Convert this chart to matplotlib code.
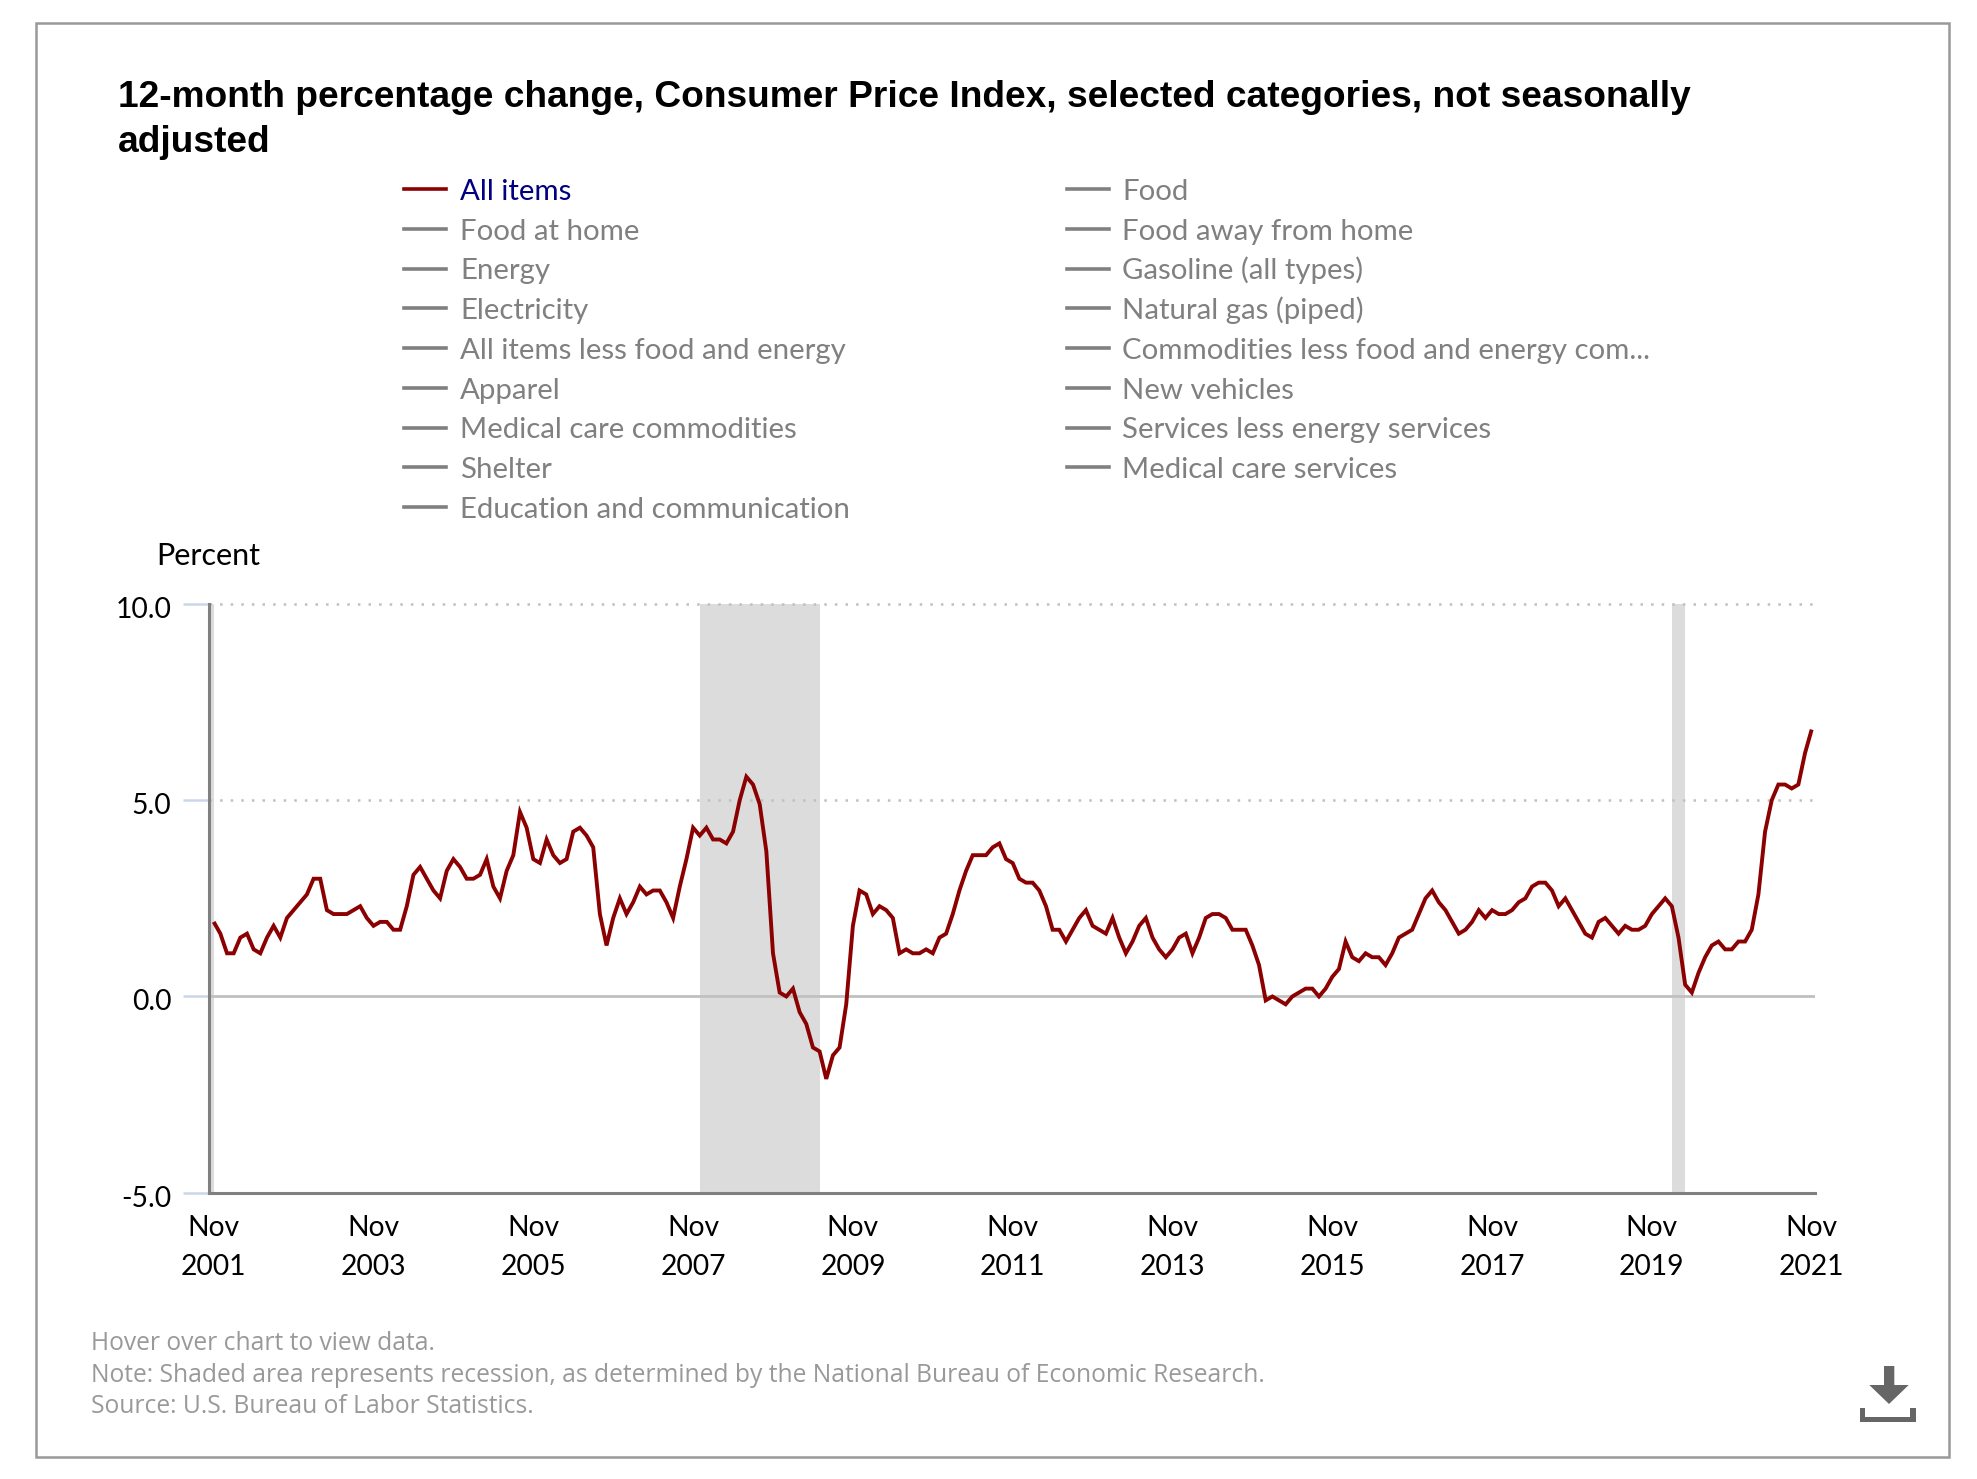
#!/usr/bin/env python3
import matplotlib
matplotlib.use('Agg')
import matplotlib.pyplot as plt
from matplotlib.lines import Line2D
from matplotlib.patches import Polygon, Rectangle
from matplotlib.transforms import ScaledTranslation

W, H = 1977, 1479

TITLE = ('12-month percentage change, Consumer Price Index, selected categories, '
         'not seasonally\nadjusted')

LEGEND_LEFT = ['All items', 'Food at home', 'Energy', 'Electricity',
               'All items less food and energy', 'Apparel',
               'Medical care commodities', 'Shelter',
               'Education and communication']
LEGEND_RIGHT = ['Food', 'Food away from home', 'Gasoline (all types)',
                'Natural gas (piped)', 'Commodities less food and energy com...',
                'New vehicles', 'Services less energy services',
                'Medical care services']

# 12-month change, Nov 2001 to Nov 2021, one value per month
ALL_ITEMS = [
    1.9, 1.6,
    1.1, 1.1, 1.5, 1.6, 1.2, 1.1, 1.5, 1.8, 1.5, 2.0, 2.2, 2.4,
    2.6, 3.0, 3.0, 2.2, 2.1, 2.1, 2.1, 2.2, 2.3, 2.0, 1.8, 1.9,
    1.9, 1.7, 1.7, 2.3, 3.1, 3.3, 3.0, 2.7, 2.5, 3.2, 3.5, 3.3,
    3.0, 3.0, 3.1, 3.5, 2.8, 2.5, 3.2, 3.6, 4.7, 4.3, 3.5, 3.4,
    4.0, 3.6, 3.4, 3.5, 4.2, 4.3, 4.1, 3.8, 2.1, 1.3, 2.0, 2.5,
    2.1, 2.4, 2.8, 2.6, 2.7, 2.7, 2.4, 2.0, 2.8, 3.5, 4.3, 4.1,
    4.3, 4.0, 4.0, 3.9, 4.2, 5.0, 5.6, 5.4, 4.9, 3.7, 1.1, 0.1,
    0.0, 0.2, -0.4, -0.7, -1.3, -1.4, -2.1, -1.5, -1.3, -0.2, 1.8, 2.7,
    2.6, 2.1, 2.3, 2.2, 2.0, 1.1, 1.2, 1.1, 1.1, 1.2, 1.1, 1.5,
    1.6, 2.1, 2.7, 3.2, 3.6, 3.6, 3.6, 3.8, 3.9, 3.5, 3.4, 3.0,
    2.9, 2.9, 2.7, 2.3, 1.7, 1.7, 1.4, 1.7, 2.0, 2.2, 1.8, 1.7,
    1.6, 2.0, 1.5, 1.1, 1.4, 1.8, 2.0, 1.5, 1.2, 1.0, 1.2, 1.5,
    1.6, 1.1, 1.5, 2.0, 2.1, 2.1, 2.0, 1.7, 1.7, 1.7, 1.3, 0.8,
    -0.1, 0.0, -0.1, -0.2, 0.0, 0.1, 0.2, 0.2, 0.0, 0.2, 0.5, 0.7,
    1.4, 1.0, 0.9, 1.1, 1.0, 1.0, 0.8, 1.1, 1.5, 1.6, 1.7, 2.1,
    2.5, 2.7, 2.4, 2.2, 1.9, 1.6, 1.7, 1.9, 2.2, 2.0, 2.2, 2.1,
    2.1, 2.2, 2.4, 2.5, 2.8, 2.9, 2.9, 2.7, 2.3, 2.5, 2.2, 1.9,
    1.6, 1.5, 1.9, 2.0, 1.8, 1.6, 1.8, 1.7, 1.7, 1.8, 2.1, 2.3,
    2.5, 2.3, 1.5, 0.3, 0.1, 0.6, 1.0, 1.3, 1.4, 1.2, 1.2, 1.4,
    1.4, 1.7, 2.6, 4.2, 5.0, 5.4, 5.4, 5.3, 5.4, 6.2, 6.8,
]
MONTHS = list(range(len(ALL_ITEMS)))

# Recessions, in months since Nov 2001
RECESSION_START = [-8, 73, 219]
RECESSION_END = [0, 91, 221]

X_TICKS = list(range(0, 241, 24))
X_LABELS = [f'Nov\n{year}' for year in range(2001, 2022, 2)]
Y_TICKS = [-5, 0, 5, 10]
Y_LABELS = ['-5.0', '0.0', '5.0', '10.0']

NOTES = ['Hover over chart to view data.',
         'Note: Shaded area represents recession, as determined by the National Bureau of Economic Research.',
         'Source: U.S. Bureau of Labor Statistics.']

LABEL_FONT = 'Lato'
RED = '#8b0000'
GRAY = '#808080'


def fx(x):
    return x / W


def fy(y):
    return 1 - y / H


fig = plt.figure(figsize=(W / 100, H / 100), dpi=100, facecolor='white')

# Outer frame
fig.add_artist(Rectangle((fx(35.5), fy(1457)), (1949 - 35.5) / W, (1457 - 23) / H,
                         fill=False, edgecolor='#999999', linewidth=1.8,
                         transform=fig.transFigure))

fig.text(fx(118), fy(152), TITLE, family='Liberation Sans', fontweight='bold',
         fontsize=26.7, color='black', va='baseline', ha='left', linespacing=1.37)

# Legend rows are laid out by hand, the original is an html legend
for col_x, text_x, labels in [(404, 460, LEGEND_LEFT), (1067, 1122, LEGEND_RIGHT)]:
    for i, label in enumerate(labels):
        y = 189 + i * 39.75
        first = label == 'All items'
        fig.add_artist(Line2D([fx(col_x), fx(col_x + 42)], [fy(y), fy(y)],
                              color=RED if first else GRAY, linewidth=2.6))
        fig.text(fx(text_x), fy(y + 10.8), label, family=LABEL_FONT, fontsize=21.2,
                 color='#000080' if first else GRAY, va='baseline', ha='left')

fig.text(fx(156), fy(565), 'Percent', family=LABEL_FONT, fontsize=22, color='black',
         va='baseline', ha='left')

ax = fig.add_axes([fx(209), fy(1192.7), (1815 - 209) / W, (1192.7 - 604) / H])
ax.set_xlim(-0.706, 240.5)
ax.set_ylim(-5, 10)

for start, end in zip(RECESSION_START, RECESSION_END):
    ax.axvspan(start, end, color='#dcdcdc', linewidth=0, zorder=0)

ax.axhline(0, color='#c0c0c0', linewidth=2.0, zorder=1)
for level in [5, 10]:
    ax.axhline(level, color='#c0c0c0', linewidth=1.8, linestyle=(0, (1, 3.24)),
               zorder=1, clip_on=False)

ax.plot(MONTHS, ALL_ITEMS, color=RED, linewidth=2.8, solid_joinstyle='miter',
        solid_capstyle='butt', zorder=3)

for side in ['top', 'right']:
    ax.spines[side].set_visible(False)
for side in ['left', 'bottom']:
    ax.spines[side].set_color(GRAY)
    ax.spines[side].set_linewidth(2.2)

ax.set_xticks(X_TICKS, X_LABELS, family=LABEL_FONT, fontsize=20.3, linespacing=1.62)
ax.set_yticks(Y_TICKS, Y_LABELS, family=LABEL_FONT, fontsize=20.3)
ax.tick_params(axis='x', length=0, pad=16, colors='black')
ax.tick_params(axis='y', length=18.7, width=1.8, color='#ccd6eb', pad=8.5, labelcolor='black')

# y labels sit a little below their ticks
label_shift = ScaledTranslation(0, -2.5 / 72, fig.dpi_scale_trans)
for tick_label in ax.get_yticklabels():
    tick_label.set_transform(tick_label.get_transform() + label_shift)

for i, note in enumerate(NOTES):
    fig.text(fx(91), fy(1350 + i * 31.6), note, family='Open Sans', fontsize=17.75,
             color='#999999', va='baseline', ha='left')

# Download icon
icon = [(1884, 1366), (1894.3, 1366), (1894.3, 1385), (1908.7, 1385), (1889, 1404),
        (1869.3, 1385), (1884, 1385)]
tray = [(1860, 1408.3), (1865.3, 1408.3), (1865.3, 1416.7), (1910.3, 1416.7),
        (1910.3, 1408.3), (1915.7, 1408.3), (1915.7, 1421.7), (1860, 1421.7)]
for shape in [icon, tray]:
    fig.add_artist(Polygon([(fx(x), fy(y)) for x, y in shape], closed=True,
                           facecolor='#666666', edgecolor='none',
                           transform=fig.transFigure))

fig.savefig('out.png', dpi=100, facecolor='white')
